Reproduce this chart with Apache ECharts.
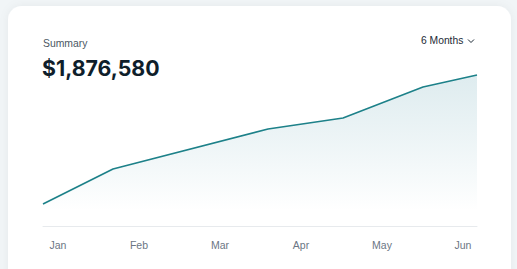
<!DOCTYPE html>
<html>
<head>
<meta charset="utf-8">
<script src="https://cdn.jsdelivr.net/npm/echarts@6/dist/echarts.min.js"></script>
<style>
  html, body { margin: 0; padding: 0; background: #f1f5f7; }
  #chart { width: 517px; height: 269px; }
</style>
</head>
<body>
<div id="chart"></div>
<script>
// Tick labels (months)
const months = ['Jan', 'Feb', 'Mar', 'Apr', 'May', 'Jun'];
// Data point positions in months (0 = Jan label) and values
const pointMonths = [-0.185, 0.679, 2.593, 3.519, 4.506, 5.173];
const pointValues = [273000, 708000, 1205000, 1342000, 1727000, 1876580];
const titleText = 'Summary';
const totalText = '$1,876,580';
const rangeText = '6 Months';

const seriesData = pointMonths.map((m, i) => [m, pointValues[i]]);

const chart = echarts.init(document.getElementById('chart'), null, { renderer: 'svg' });
const FONT = 'Inter, "Noto Sans", sans-serif';
const SMALL = '"Liberation Sans", Arial, sans-serif';

chart.setOption({
  backgroundColor: '#f1f5f7',
  animation: false,
  graphic: [
    {
      type: 'rect', z: -10,
      shape: { x: 8, y: 6, width: 503, height: 290, r: 14 },
      style: { fill: '#ffffff', shadowBlur: 10, shadowColor: 'rgba(20,40,60,0.05)' }
    },
    {
      type: 'text', left: 43, top: 38,
      style: { text: titleText, fontSize: 10.4, fontFamily: SMALL, fill: '#4b5763' }
    },
    {
      type: 'text', left: 42, top: 57,
      style: { text: totalText, fontSize: 21.3, fontWeight: 700, fontFamily: FONT, fill: '#0f1e2b' }
    },
    {
      type: 'text', left: 421, top: 35.5,
      style: { text: rangeText, fontSize: 10.3, fontFamily: SMALL, fill: '#1c2a36' }
    },
    {
      type: 'polyline',
      shape: { points: [[468, 39.5], [471, 42.5], [474, 39.5]] },
      style: { stroke: '#1c2a36', lineWidth: 1, fill: 'none' }
    }
  ],
  grid: [
    { left: 43, right: 40, top: 65, bottom: 43 },
    { left: 17.5, right: 13.5, top: 65, bottom: 43 }
  ],
  xAxis: [
    {
      type: 'value', gridIndex: 0,
      min: pointMonths[0], max: pointMonths[pointMonths.length - 1],
      axisLine: { show: true, onZero: false, lineStyle: { color: '#e7eaed', width: 1 } },
      axisTick: { show: false }, axisLabel: { show: false }, splitLine: { show: false }
    },
    {
      type: 'category', gridIndex: 1, data: months, boundaryGap: true,
      axisLine: { show: false }, axisTick: { show: false }, splitLine: { show: false },
      axisLabel: { color: '#6b7684', fontSize: 10.5, fontFamily: SMALL, margin: 13 }
    }
  ],
  yAxis: [
    { type: 'value', gridIndex: 0, min: 0, max: 2000000, show: false, splitLine: { show: false } },
    { type: 'value', gridIndex: 1, min: 0, max: 1, show: false, splitLine: { show: false } }
  ],
  series: [
    {
      type: 'line', xAxisIndex: 0, yAxisIndex: 0,
      data: seriesData, showSymbol: false, smooth: false,
      lineStyle: { color: '#1d8189', width: 1.6 },
      areaStyle: {
        origin: 'start',
        color: new echarts.graphic.LinearGradient(0, 0, 0, 1, [
          { offset: 0, color: 'rgba(40,130,150,0.22)' },
          { offset: 0.55, color: 'rgba(40,130,150,0.09)' },
          { offset: 0.9, color: 'rgba(40,130,150,0)' }
        ])
      }
    }
  ]
});
</script>
</body>
</html>
